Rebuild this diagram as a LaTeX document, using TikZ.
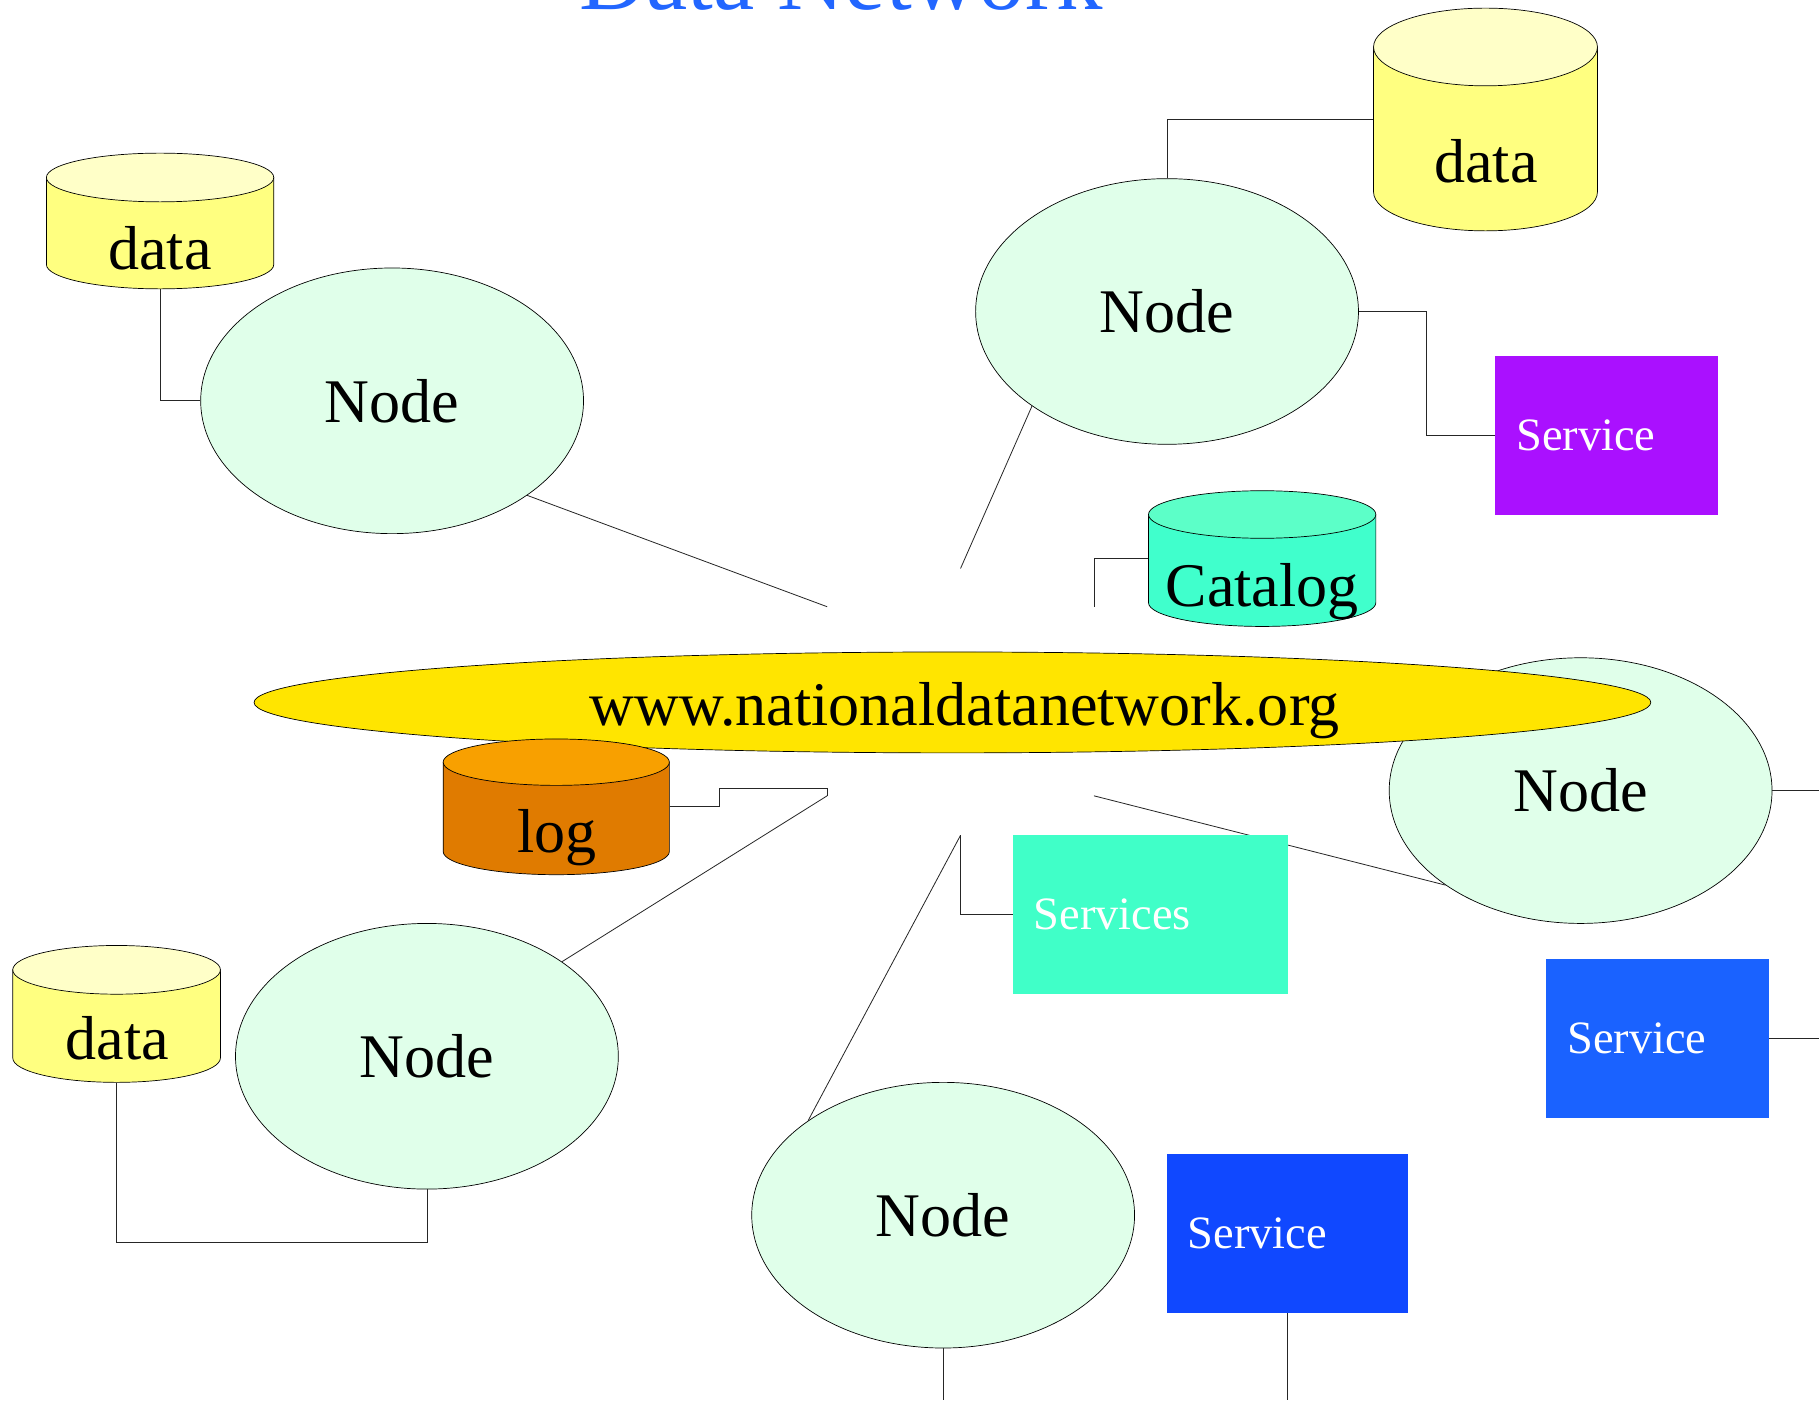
\documentclass[tikz,border=0pt]{standalone}
\usepackage{fontspec}
\setmainfont{Liberation Serif}
\usetikzlibrary{shapes.geometric}
\pgfdeclarelayer{bg}
\pgfsetlayers{bg,main}
\definecolor{nodefill}{HTML}{E0FFEA}
\definecolor{datatop}{HTML}{FFFFC8}
\definecolor{databody}{HTML}{FFFF80}
\definecolor{cattop}{HTML}{5CFFC8}
\definecolor{catbody}{HTML}{40FFCC}
\definecolor{logtop}{HTML}{F8A000}
\definecolor{logbody}{HTML}{E07B00}
\definecolor{hubfill}{HTML}{FFE500}
\definecolor{purpleone}{HTML}{AA10FF}
\definecolor{aquaone}{HTML}{40FFC8}
\definecolor{blueone}{HTML}{1A62FF}
\definecolor{bluetwo}{HTML}{1048FF}
\definecolor{titleblue}{HTML}{2266FF}
\tikzset{
  wire/.style={draw=black!85, line width=0.7pt},
  netnode/.style={ellipse, draw, fill=nodefill, line width=0.6pt, minimum width=330pt, minimum height=229pt, inner sep=0pt, font=\fontsize{53.5}{60}\selectfont},
  svc/.style={rectangle, draw=none, minimum height=137pt, inner xsep=18pt, inner ysep=0pt, text=white, align=left, font=\fontsize{40}{44}\selectfont},
  cylbox/.style={rectangle, draw=none, inner sep=0pt},
  cyltext/.style={anchor=base, inner sep=0pt, font=\fontsize{53.5}{60}\selectfont},
  cylline/.style={draw=black, line width=0.6pt},
}
% #1 name, #2 cx, #3 half width, #4 top y, #5 bottom y, #6 end radius, #7 top colour, #8 body colour
\newcommand{\dbcyl}[8]{%
  \pgfmathsetmacro{\cylL}{#2-#3}\pgfmathsetmacro{\cylR}{#2+#3}%
  \pgfmathsetmacro{\cylT}{#4+#6}\pgfmathsetmacro{\cylB}{#5-#6}%
  \pgfmathsetmacro{\cylM}{(#4+#5)/2}\pgfmathsetmacro{\cylW}{2*#3}\pgfmathsetmacro{\cylH}{#5-#4}%
  \path[cylline, fill=#8] (\cylL,\cylT) -- (\cylL,\cylB) arc[start angle=180, end angle=360, x radius=#3pt, y radius=#6pt] -- (\cylR,\cylT) -- cycle;
  \path[cylline, fill=#7] (#2,\cylT) ellipse[x radius=#3pt, y radius=#6pt];
  \node[cylbox, minimum width=\cylW pt, minimum height=\cylH pt] (#1) at (#2,\cylM) {};
}
\begin{document}
\begin{tikzpicture}[x=1pt, y=-1pt]
\useasboundingbox (0,0) rectangle (1568,1207);

% title
\node[anchor=base, inner sep=0pt, text=titleblue, font=\fontsize{80}{90}\selectfont] (title) at (725,8) {Data Network};

% hub points and free ends
\coordinate (h1) at (713,523);
\coordinate (h2) at (828,490);
\coordinate (h3) at (943,523);
\coordinate (h4) at (713,686);
\coordinate (h4top) at (713,680);
\coordinate (h5) at (828,720);
\coordinate (h6) at (943,686);
\coordinate (e1) at (1568,681.5);
\coordinate (e2) at (1568,895.5);
\coordinate (e3) at (813,1207);
\coordinate (e4) at (1110,1207);

% nodes
\node[netnode] (n1) at (338,345.5) {Node};
\node[netnode] (n2) at (1006,268.5) {Node};
\node[netnode] (n3) at (1362.5,681.5) {Node};

% central hub
\node[ellipse, draw, line width=0.6pt, fill=hubfill, minimum width=1204pt, minimum height=87pt, inner sep=0pt] (hub) at (821,605.5) {};
\node[anchor=base, inner sep=0pt, font=\fontsize{53.5}{60}\selectfont] (hubt) at (831.5,625) {www.nationaldatanetwork.org};

\node[netnode] (n4) at (368,910.5) {Node};
\node[netnode] (n5) at (813,1047.5) {Node};

% services
\node[svc, fill=purpleone, text width=156pt] (s1) at (1385,375.5) {Service};
\node[svc, fill=aquaone, text width=201pt] (s2) at (991.5,788.5) {Services};
\node[svc, fill=blueone, text width=156pt] (s3) at (1429,895.5) {Service};
\node[svc, fill=bluetwo, text width=172pt] (s4) at (1110,1063.5) {Service};

% cylinders
\dbcyl{d1}{138}{98}{132}{249}{21}{datatop}{databody}
\node[cyltext] (d1t) at (138,232) {data};
\dbcyl{d2}{1280.5}{96.5}{7}{199}{33.5}{datatop}{databody}
\node[cyltext] (d2t) at (1281,157) {data};
\dbcyl{cat}{1088}{98}{423}{540}{20.5}{cattop}{catbody}
\node[cyltext] (catt) at (1088,523) {Catalog};
\dbcyl{log}{479.5}{97.5}{637}{754}{20}{logtop}{logbody}
\node[cyltext] (logt) at (480,735) {log};
\dbcyl{d3}{100.5}{89.5}{815}{933}{21}{datatop}{databody}
\node[cyltext] (d3t) at (101,913) {data};

% connectors
\begin{pgfonlayer}{bg}
\draw[wire] (d1.south) |- (n1.west);
\draw[wire] (n2.north) |- (d2.west);
\draw[wire] (n2.east) -- ++(58,0) |- (s1.west);
\draw[wire] (h3) |- (cat.west);
\draw[wire] (log.east) -- ++(43,0) |- (h4top) -- (h4);
\draw[wire] (h4) -- (n4.35);
\draw[wire] (h1) -- (n1.-35);
\draw[wire] (h2) -- (n2.-145);
\draw[wire] (h5) |- (s2.west);
\draw[wire] (h5) -- (n5.145);
\draw[wire] (h6) -- (n3.-145);
\draw[wire] (n3.east) -- (e1);
\draw[wire] (s3.east) -- (e2);
\draw[wire] (n5.south) -- (e3);
\draw[wire] (s4.south) -- (e4);
\draw[wire] (d3.south) -- ++(0,138) -| (n4.south);
\end{pgfonlayer}
\end{tikzpicture}
\end{document}
